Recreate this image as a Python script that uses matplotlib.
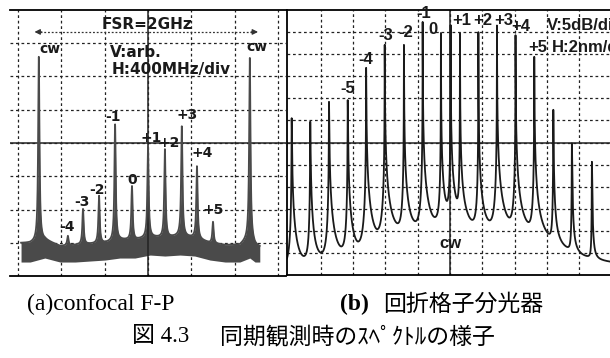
import numpy as np
import matplotlib.pyplot as plt

# (a) confocal F-P scope trace: x in div (400 MHz/div), y in div (arb.)
fp_labels = ['cw', '-4', '-3', '-2', '-1', '0', '+1', '+2', '+3', '+4', '+5', 'cw']
fp_pos = [-2.52, -1.85, -1.50, -1.13, -0.76, -0.37, 0.00, 0.39, 0.78, 1.13, 1.50, 2.35]
fp_peak = [6.59, 1.20, 2.01, 2.40, 4.55, 2.69, 3.86, 3.80, 4.49, 3.29, 1.62, 6.56]

# noise floor of the scope trace (upper / lower edge of the band)
fp_floor_x = [-2.93, -2.72, -2.38, -2.03, -1.68, -1.34, -0.99, -0.65, -0.30, 0.05,
              0.39, 0.74, 1.08, 1.43, 1.78, 2.12, 2.35, 2.47, 2.58]
fp_floor_top = [0.99, 0.99, 1.08, 0.90, 0.93, 0.96, 0.99, 1.08, 1.08, 1.17,
                1.14, 1.20, 1.14, 0.99, 0.93, 0.93, 1.14, 0.93, 0.87]
fp_floor_bot = [0.42, 0.42, 0.54, 0.42, 0.42, 0.45, 0.48, 0.54, 0.54, 0.63,
                0.60, 0.63, 0.60, 0.48, 0.42, 0.42, 0.54, 0.42, 0.42]

# (b) grating spectrometer: x in nm (2 nm/div), y in dB (5 dB/div)
osa_pos = [-9.80, -8.65, -7.49, -6.33, -5.19, -4.04, -2.85, -1.69, -0.56, 0.04,
           0.62, 1.76, 2.91, 4.06, 5.22, 6.40, 7.55, 8.79]
osa_peak = [35.5, 34.7, 39.2, 39.6, 46.9, 52.1, 52.1, 57.3, 54.8, 56.6,
            54.8, 55.0, 56.5, 54.3, 49.4, 37.4, 29.8, 25.6]
# long-wavelength side tail width of each line (nm)
osa_tail = [0.012, 0.012, 0.011, 0.010, 0.007, 0.005, 0.0042, 0.003, 0.003, 0.003,
            0.003, 0.003, 0.0035, 0.004, 0.0055, 0.009, 0.012, 0.012]
osa_floor_x = [-10.09, -9.29, -8.11, -6.93, -5.76, -4.64, -3.47, -2.29, -1.11, -0.25,
               0.31, 1.18, 2.35, 3.47, 4.64, 5.82, 6.93, 8.17, 9.29, 9.91]
osa_floor = [1.0, 0.6, 0.8, 1.0, 0.5, 2.5, 6.0, 7.0, 7.5, 10.5,
             10.5, 7.5, 6.5, 6.0, 5.5, 4.0, 2.5, 1.5, 1.2, 1.2]

W, H = 610, 358
fig = plt.figure(figsize=(W / 100, H / 100), dpi=100)
fig.patch.set_facecolor('white')


def px_axes(x0, y0, x1, y1):
    return fig.add_axes([x0 / W, 1 - y1 / H, (x1 - x0) / W, (y1 - y0) / H])


def scope_grid(ax, xt, yt, x0, y0):
    ax.set_xticks(xt)
    ax.set_yticks(yt)
    ax.tick_params(length=0, labelbottom=False, labelleft=False)
    ax.grid(True, color='#222222', lw=0.9, ls=(0, (2.2, 2.2)))
    ax.axvline(x0, color='#222222', lw=1.1)
    ax.axhline(y0, color='#222222', lw=1.1)
    ax.set_axisbelow(True)


# ---------- (a) confocal F-P ----------
ax1 = px_axes(10, 10, 286, 276)
ax1.set_xlim(-3.185, 3.185)
ax1.set_ylim(0, 8)
scope_grid(ax1, np.arange(-3, 4), np.arange(1, 8), 0, 4)
for s in ['left', 'right']:
    ax1.spines[s].set_visible(False)
for s in ['top', 'bottom']:
    ax1.spines[s].set_linewidth(1.3)

trace_col = '#4a4a4a'
xs = np.linspace(fp_floor_x[0], fp_floor_x[-1], 5000)
top = np.interp(xs, fp_floor_x, fp_floor_top)
bot = np.interp(xs, fp_floor_x, fp_floor_bot)
g = 0.018
sig = np.zeros_like(xs)
for p, h in zip(fp_pos, fp_peak):
    base = np.interp(p, fp_floor_x, fp_floor_top)
    sig += (h - base) * g ** 2 / (g ** 2 + (xs - p) ** 2)
ax1.fill_between(xs, bot, top + sig, color=trace_col, lw=0)
ax1.plot(xs, top + sig, color=trace_col, lw=1.3)

lab = dict(family='DejaVu Sans', fontsize=10, fontweight='bold', color='#1a1a1a',
           ha='center', va='center')
fp_text_xy = [(-2.26, 6.83), (-1.87, 1.47), (-1.52, 2.23), (-1.18, 2.59), (-0.81, 4.78),
              (-0.37, 2.89), (0.07, 4.15), (0.50, 4.0), (0.90, 4.84), (1.25, 3.70),
              (1.50, 1.98), (2.52, 6.89)]
for t, (x, y) in zip(fp_labels, fp_text_xy):
    ax1.text(x, y, t, **lab)

big = dict(family='DejaVu Sans', fontsize=11, fontweight='bold', color='#1a1a1a', va='center')
ax1.text(-0.02, 7.55, 'FSR=2GHz', ha='center', **big)
ax1.text(-0.88, 6.71, 'V:arb.', ha='left', **big)
ax1.text(-0.83, 6.20, 'H:400MHz/div', ha='left', **big)
# FSR arrow between the two cw peaks
ax1.plot([-2.5, 2.42], [7.34, 7.34], color='#333333', lw=0.9, ls=(0, (1.5, 1.5)))
for xa, xb in [(-2.45, -2.62), (2.38, 2.54)]:
    ax1.annotate('', xy=(xb, 7.34), xytext=(xa, 7.34),
                 arrowprops=dict(arrowstyle='-|>', color='#333333', lw=0.9,
                                 mutation_scale=8, shrinkA=0, shrinkB=0))

# ---------- (b) grating spectrometer ----------
ax2 = px_axes(287, 10, 610, 275)
ax2.set_xlim(-10.09, 9.91)
ax2.set_ylim(0, 60)
scope_grid(ax2, np.arange(-8, 10, 2), np.arange(5, 60, 5), 0, 30)
ax2.spines['right'].set_visible(False)
for s in ['top', 'bottom', 'left']:
    ax2.spines[s].set_linewidth(1.3)

xo = np.linspace(-10.09, 9.91, 80000)
lin = 10 ** (np.interp(xo, osa_floor_x, osa_floor) / 10)
for p, h, gr in zip(osa_pos, osa_peak, osa_tail):
    # steep short-wavelength edge, slower long-wavelength tail
    gw = np.where(xo < p, gr / 2.5, gr)
    lin += 10 ** (h / 10) * gw ** 2 / (gw ** 2 + (xo - p) ** 2)
ax2.plot(xo, 10 * np.log10(lin), color='#1a1a1a', lw=1.3)

nar = dict(family=['Liberation Sans Narrow', 'Liberation Sans'], fontsize=12,
           fontweight='bold', color='#1a1a1a', va='center', clip_on=False)
osa_labels = ['-5', '-4', '-3', '-2', '-1', '0', '+1', '+2', '+3', '+4', '+5']
osa_text_xy = [(-6.32, 42.3), (-5.2, 48.7), (-3.96, 54.3), (-2.72, 54.8), (-1.61, 59.3),
               (-1.05, 55.5), (0.70, 57.7), (2.02, 57.7), (3.36, 57.7), (4.40, 56.2),
               (5.45, 51.4)]
for t, (x, y) in zip(osa_labels, osa_text_xy):
    ax2.text(x, y, t, ha='center', **nar)
ax2.text(6.0, 56.6, 'V:5dB/div', ha='left', **nar)
ax2.text(6.32, 51.6, 'H:2nm/div', ha='left', **nar)
ax2.text(0.0, 7.2, 'cw', ha='center', **nar)

# ---------- captions ----------
fig.text(27 / W, 1 - 304 / H, '(a)confocal F-P', family='Liberation Serif',
         fontsize=17, ha='left', va='center')
fig.text(340 / W, 1 - 304 / H, '(b)', family='Liberation Serif', fontweight='bold',
         fontsize=17, ha='left', va='center')
fig.text(383 / W, 1 - 304 / H, '回折格子分光器', family='Noto Sans CJK JP',
         fontsize=16.5, ha='left', va='center')
fig.text(132 / W, 1 - 337 / H, '図 4.3', family=['Liberation Serif', 'Noto Sans CJK JP'],
         fontsize=16.5, ha='left', va='center')
fig.text(220 / W, 1 - 337 / H, '同期観測時のｽﾍﾟｸﾄﾙの様子', family='Noto Sans CJK JP',
         fontsize=16.5, ha='left', va='center')

fig.savefig('out.png', dpi=100, facecolor='white')
